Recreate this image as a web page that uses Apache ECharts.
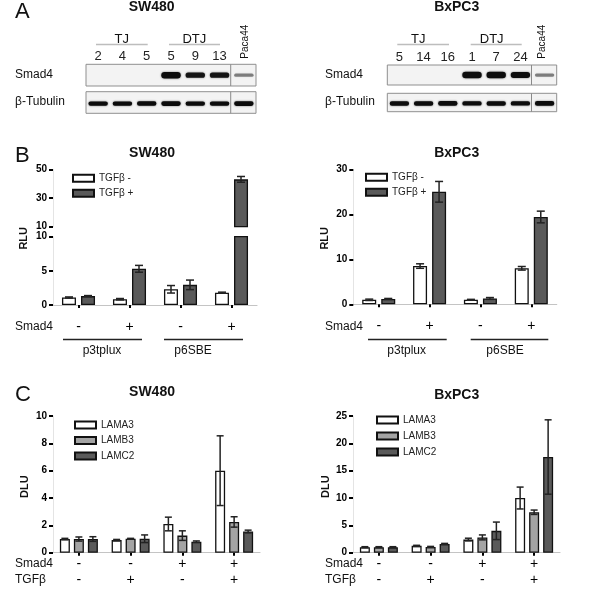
<!DOCTYPE html>
<html><head><meta charset="utf-8">
<script src="https://cdn.jsdelivr.net/npm/echarts@6/dist/echarts.min.js"></script>
<style>html,body{margin:0;padding:0;background:#fff}#c{width:600px;height:609px}</style>
</head><body><div id="c"></div><script>
const FONT = '"Liberation Sans", Arial, Helvetica, sans-serif';

// ---------- Panel A: western blots ----------
const cellLines = ['SW480', 'BxPC3'];
const panelLetters = ['A', 'B', 'C'];
const blotGroups = ['TJ', 'DTJ'];
const blotLanesSW = ['2', '4', '5', '5', '9', '13', 'Paca44'];
const blotLanesBx = ['5', '14', '16', '1', '7', '24', 'Paca44'];
const blotRows = ['Smad4', 'β-Tubulin'];
const smad4SW = [0, 0, 0, 1.0, 0.72, 0.72, 0.35];
const tubulinSW = [0.9, 0.9, 0.95, 1.0, 0.9, 0.9, 1.0];
const smad4Bx = [0, 0, 0, 1.0, 1.0, 0.9, 0.35];
const tubulinBx = [0.95, 0.95, 1.0, 0.9, 0.92, 0.9, 1.0];

// ---------- Panel B: luciferase (RLU) ----------
const bCats = ['1', '2', '3', '4'];
const bSmad4Signs = ['-', '+', '-', '+'];
const bReporters = ['p3tplux', 'p6SBE'];
const bLegend = ['TGFβ -', 'TGFβ +'];
const bSwMinus = [1.1, 0.85, 2.3, 1.8];
const bSwMinusErr = [0.08, 0.1, 0.55, 0.08];
const bSwPlus = [1.3, 5.3, 2.95, 43];
const bSwPlusErr = [0.08, 0.5, 0.7, 2.0];
const bBxMinus = [1.0, 8.5, 1.0, 8.0];
const bBxMinusErr = [0.15, 0.5, 0.1, 0.4];
const bBxPlus = [1.2, 25.0, 1.3, 19.4];
const bBxPlusErr = [0.1, 2.3, 0.2, 1.3];

// ---------- Panel C: laminin expression (DLU) ----------
const cCats = ['1', '2', '3', '4'];
const cSmad4Signs = ['-', '-', '+', '+'];
const cTgfSigns = ['-', '+', '-', '+'];
const cLegend = ['LAMA3', 'LAMB3', 'LAMC2'];
const cRowLabels = ['Smad4', 'TGFβ'];
const cSwA3 = [1.0, 0.92, 2.1, 6.0];
const cSwA3Err = [0.05, 0.05, 0.5, 2.55];
const cSwB3 = [1.0, 1.02, 1.25, 2.25];
const cSwB3Err = [0.15, 0.03, 0.35, 0.38];
const cSwC2 = [1.0, 1.02, 0.8, 1.55];
const cSwC2Err = [0.17, 0.28, 0.06, 0.1];
const cBxA3 = [1.0, 1.25, 2.4, 10.0];
const cBxA3Err = [0.1, 0.1, 0.25, 2.0];
const cBxB3 = [1.0, 1.05, 2.8, 7.4];
const cBxB3Err = [0.1, 0.1, 0.45, 0.4];
const cBxC2 = [1.0, 1.6, 4.0, 17.5];
const cBxC2Err = [0.1, 0.1, 1.6, 6.8];

const WHITE = '#ffffff', GRAY = '#a4a4a4', DARK = '#5a5a5a';

const chart = echarts.init(document.getElementById('c'), null, {renderer: 'canvas'});

function blotRender(kind) {
  return function (params, api) {
    const i = api.value(0), I = api.value(1);
    const c = api.coord([i, kind === 'smad' ? 0.5 : 0.45]);
    const bw = api.size([1, 0])[0];
    const ch = [];
    if (i === 6) {
      const t = api.coord([i, 1]), b = api.coord([i, 0]);
      ch.push({type: 'line', shape: {x1: c[0] - bw / 2 - 1, y1: t[1], x2: c[0] - bw / 2 - 1, y2: b[1]},
        style: {stroke: '#8a8a8a', lineWidth: 1}});
    }
    if (I > 0) {
      const h = kind === 'smad' ? 1.5 + 5 * I : 1.5 + 3.2 * I;
      const w = bw * 0.8;
      const a = Math.min(1, I * 1.3);
      ch.push({type: 'rect', shape: {x: c[0] - w / 2, y: c[1] - h / 2, width: w, height: h, r: h / 2},
        style: {fill: 'rgba(12,12,12,' + a + ')', shadowBlur: 2, shadowColor: 'rgba(12,12,12,' + (a * 0.6) + ')'}});
    }
    return {type: 'group', children: ch};
  };
}

function blotSeries(gi, vals, kind) {
  return {type: 'custom', xAxisIndex: gi, yAxisIndex: gi, data: vals.map((v, i) => [i, v]),
    renderItem: blotRender(kind), silent: true};
}

function bar(name, data, ai, color, bw, gap) {
  return {type: 'bar', name, data, xAxisIndex: ai, yAxisIndex: ai, barWidth: bw, barGap: gap,
    itemStyle: {color, borderColor: '#111', borderWidth: 1.3}, silent: true, z: 2};
}

function errSeries(ai, vals, errs, offset, cap, keep) {
  const data = [];
  vals.forEach((v, i) => { if (keep(v)) data.push([i, v, errs[i]]); });
  return {type: 'custom', xAxisIndex: ai, yAxisIndex: ai, data, z: 6, silent: true,
    renderItem: function (params, api) {
      const x = api.value(0), v = api.value(1), e = api.value(2);
      const hi = api.coord([x, v + e]), lo = api.coord([x, Math.max(0, v - e)]);
      const px = hi[0] + offset;
      const st = {stroke: '#222', lineWidth: 1.5};
      return {type: 'group', children: [
        {type: 'line', shape: {x1: px, y1: hi[1], x2: px, y2: lo[1]}, style: st},
        {type: 'line', shape: {x1: px - cap, y1: hi[1], x2: px + cap, y2: hi[1]}, style: st},
        {type: 'line', shape: {x1: px - cap, y1: lo[1], x2: px + cap, y2: lo[1]}, style: st}
      ]};
    }};
}

function yAx(gi, min, max, interval) {
  return {type: 'value', gridIndex: gi, min, max, interval,
    axisLine: {show: true, lineStyle: {color: '#e4e4e4', width: 1}},
    axisTick: {show: true, length: 4, lineStyle: {color: '#000', width: 2}},
    splitLine: {show: false},
    axisLabel: {fontSize: 10, fontWeight: 'bold', color: '#000', fontFamily: FONT, margin: 6}};
}

function xAx(gi, cats, formatter, margin, show) {
  return {type: 'category', gridIndex: gi, data: cats, show: show !== false,
    axisLine: {show: true, lineStyle: {color: '#c4c4c4', width: 1.2}},
    axisTick: {show: true, alignWithLabel: true, length: 3, lineStyle: {color: '#000', width: 2}},
    axisLabel: {interval: 0, formatter, fontSize: 14, color: '#000', margin, lineHeight: 16, fontFamily: FONT}};
}

function blotX(gi, lanes, showLabels) {
  return {type: 'category', gridIndex: gi, data: lanes, position: 'top',
    axisLine: {show: false}, axisTick: {show: false},
    axisLabel: {show: showLabels, interval: 0, fontSize: 13, color: '#222', margin: 1.5, fontFamily: FONT,
      formatter: v => (v === 'Paca44' ? '' : v)}};
}
function blotY(gi) { return {type: 'value', gridIndex: gi, min: 0, max: 1, show: false}; }

const blotGrid = (left, top, width, height) => ({left, top, width, height, show: true,
  backgroundColor: '#f3f3f3', borderColor: '#8f8f8f', borderWidth: 1});

const grids = [
  blotGrid(86, 64.3, 170, 21.7),     // 0 SW smad4
  blotGrid(86, 91.7, 170, 21.6),     // 1 SW tubulin
  blotGrid(387.3, 65, 169.4, 20),    // 2 Bx smad4
  blotGrid(387.3, 93.3, 169.4, 18.4),// 3 Bx tubulin
  {left: 53, top: 236.7, width: 204, height: 68.3},   // 4 B SW lower
  {left: 53, top: 169.3, width: 204, height: 57.4},   // 5 B SW upper
  {left: 353.3, top: 169.3, width: 203.4, height: 135}, // 6 B Bx
  {left: 53, top: 416, width: 207, height: 136.7},    // 7 C SW
  {left: 353, top: 416, width: 207, height: 136.7}    // 8 C Bx
];

const bFmt = (v, i) => bSmad4Signs[i];
const cFmt = (v, i) => cSmad4Signs[i] + '\n' + cTgfSigns[i];

const xAxes = [
  blotX(0, blotLanesSW, true), blotX(1, blotLanesSW, false),
  blotX(2, blotLanesBx, true), blotX(3, blotLanesBx, false),
  xAx(4, bCats, bFmt, 14), xAx(5, bCats, bFmt, 14, false), xAx(6, bCats, bFmt, 14),
  xAx(7, cCats, cFmt, 3.3), xAx(8, cCats, cFmt, 3.3)
];
const yAxes = [
  blotY(0), blotY(1), blotY(2), blotY(3),
  yAx(4, 0, 10, 5), yAx(5, 10, 50, 20), yAx(6, 0, 30, 10),
  yAx(7, 0, 10, 2), yAx(8, 0, 25, 5)
];

const low = v => v <= 10, high = v => v > 10, all = () => true;
const BBW = 14, BGAP = '36%', BOFF = 9.5, BCAP = 4;
const CBW = 10, CGAP = '40%', COFF = 14, CCAP = 3.5;

const series = [
  blotSeries(0, smad4SW, 'smad'), blotSeries(1, tubulinSW, 'tub'),
  blotSeries(2, smad4Bx, 'smad'), blotSeries(3, tubulinBx, 'tub'),
  // B SW lower
  bar(bLegend[0], bSwMinus, 4, WHITE, BBW, BGAP),
  bar(bLegend[1], bSwPlus, 4, DARK, BBW, BGAP),
  // B SW upper (broken axis)
  bar(bLegend[0], bSwMinus.map(v => high(v) ? v : '-'), 5, WHITE, BBW, BGAP),
  bar(bLegend[1], bSwPlus.map(v => high(v) ? v : '-'), 5, DARK, BBW, BGAP),
  errSeries(4, bSwMinus, bSwMinusErr, -BOFF, BCAP, low),
  errSeries(4, bSwPlus, bSwPlusErr, BOFF, BCAP, low),
  errSeries(5, bSwPlus, bSwPlusErr, BOFF, BCAP, high),
  // B Bx
  bar(bLegend[0], bBxMinus, 6, WHITE, BBW, BGAP),
  bar(bLegend[1], bBxPlus, 6, DARK, BBW, BGAP),
  errSeries(6, bBxMinus, bBxMinusErr, -BOFF, BCAP, all),
  errSeries(6, bBxPlus, bBxPlusErr, BOFF, BCAP, all),
  // C SW
  bar(cLegend[0], cSwA3, 7, WHITE, CBW, CGAP),
  bar(cLegend[1], cSwB3, 7, GRAY, CBW, CGAP),
  bar(cLegend[2], cSwC2, 7, DARK, CBW, CGAP),
  errSeries(7, cSwA3, cSwA3Err, -COFF, CCAP, all),
  errSeries(7, cSwB3, cSwB3Err, 0, CCAP, all),
  errSeries(7, cSwC2, cSwC2Err, COFF, CCAP, all),
  // C Bx
  bar(cLegend[0], cBxA3, 8, WHITE, CBW, CGAP),
  bar(cLegend[1], cBxB3, 8, GRAY, CBW, CGAP),
  bar(cLegend[2], cBxC2, 8, DARK, CBW, CGAP),
  errSeries(8, cBxA3, cBxA3Err, -COFF, CCAP, all),
  errSeries(8, cBxB3, cBxB3Err, 0, CCAP, all),
  errSeries(8, cBxC2, cBxC2Err, COFF, CCAP, all)
];

function leg(data, left, top, gap) {
  return {data, left, top, orient: 'vertical', icon: 'rect', itemWidth: 21, itemHeight: 7, itemGap: gap,
    padding: 0, selectedMode: false,
    textStyle: {fontSize: 10, color: '#222', fontFamily: FONT, lineHeight: 12}};
}

const T = (text, x, y, font, extra) => Object.assign({type: 'text', x, y, silent: true,
  style: {text, font, fill: '#111', align: 'left', verticalAlign: 'middle'}}, extra || {});
const TC = (text, x, y, font, extra) => {
  const t = T(text, x, y, font, extra); t.style.align = 'center'; return t;
};
const L = (x1, x2, y, color, w) => ({type: 'line', silent: true, shape: {x1, y1: y, x2, y2: y},
  style: {stroke: color, lineWidth: w}});

const LETTER = '22px ' + FONT, TITLE = 'bold 14px ' + FONT, LAB = '12px ' + FONT,
  BLOT = '13px ' + FONT, AX = 'bold 11px ' + FONT;
const ROT = {rotation: Math.PI / 2};

const graphic = [
  T(panelLetters[0], 15, 11.5, LETTER), T(panelLetters[1], 15, 156, LETTER), T(panelLetters[2], 15, 395, LETTER),
  TC(cellLines[0], 151.7, 7.5, TITLE), TC(cellLines[1], 456.7, 7.5, TITLE),
  TC(cellLines[0], 152, 153, TITLE), TC(cellLines[1], 456.7, 153, TITLE),
  TC(cellLines[0], 152, 391.7, TITLE), TC(cellLines[1], 456.7, 395, TITLE),
  // blot headers
  TC(blotGroups[0], 121.7, 39, BLOT), TC(blotGroups[1], 194.3, 39, BLOT),
  L(96, 147.7, 44.5, '#bdbdbd', 1.5), L(169, 220, 44.5, '#bdbdbd', 1.5),
  TC(blotGroups[0], 418.3, 39, BLOT), TC(blotGroups[1], 491.7, 39, BLOT),
  L(397.3, 449, 44.5, '#bdbdbd', 1.5), L(470.7, 521.7, 44.5, '#bdbdbd', 1.5),
  TC(blotLanesSW[6], 245, 41.7, '10px ' + FONT, ROT), TC(blotLanesBx[6], 542.3, 41.7, '10px ' + FONT, ROT),
  T(blotRows[0], 15, 75, LAB), T(blotRows[1], 15, 101.7, LAB),
  T(blotRows[0], 325, 75, LAB), T(blotRows[1], 325, 102, LAB),
  // axis titles
  TC('RLU', 24, 238.3, AX, ROT), TC('RLU', 325, 238.3, AX, ROT),
  TC('DLU', 25, 486.7, AX, ROT), TC('DLU', 326, 486.7, AX, ROT),
  // B row labels & reporter groups
  T(blotRows[0], 15, 326.7, LAB), T(blotRows[0], 325, 326.7, LAB),
  L(63, 142, 339.5, '#222', 1.5), L(164, 243, 339.5, '#222', 1.5),
  L(368, 446.7, 339.5, '#222', 1.5), L(470.7, 548.3, 339.5, '#222', 1.5),
  TC(bReporters[0], 102, 350.5, LAB), TC(bReporters[1], 193, 350.5, LAB),
  TC(bReporters[0], 406.7, 350.5, LAB), TC(bReporters[1], 505, 350.5, LAB),
  // C row labels
  T(cRowLabels[0], 15, 564, LAB), T(cRowLabels[1], 15, 580, LAB),
  T(cRowLabels[0], 325, 564, LAB), T(cRowLabels[1], 325, 580, LAB)
];

chart.setOption({
  animation: false,
  backgroundColor: '#fff',
  textStyle: {fontFamily: FONT},
  grid: grids,
  xAxis: xAxes,
  yAxis: yAxes,
  legend: [leg(bLegend, 72, 172.3, 3), leg(bLegend, 365, 171.3, 3),
           leg(cLegend, 74, 419, 3.5), leg(cLegend, 376, 414, 4)],
  series,
  graphic
});
</script></body></html>
